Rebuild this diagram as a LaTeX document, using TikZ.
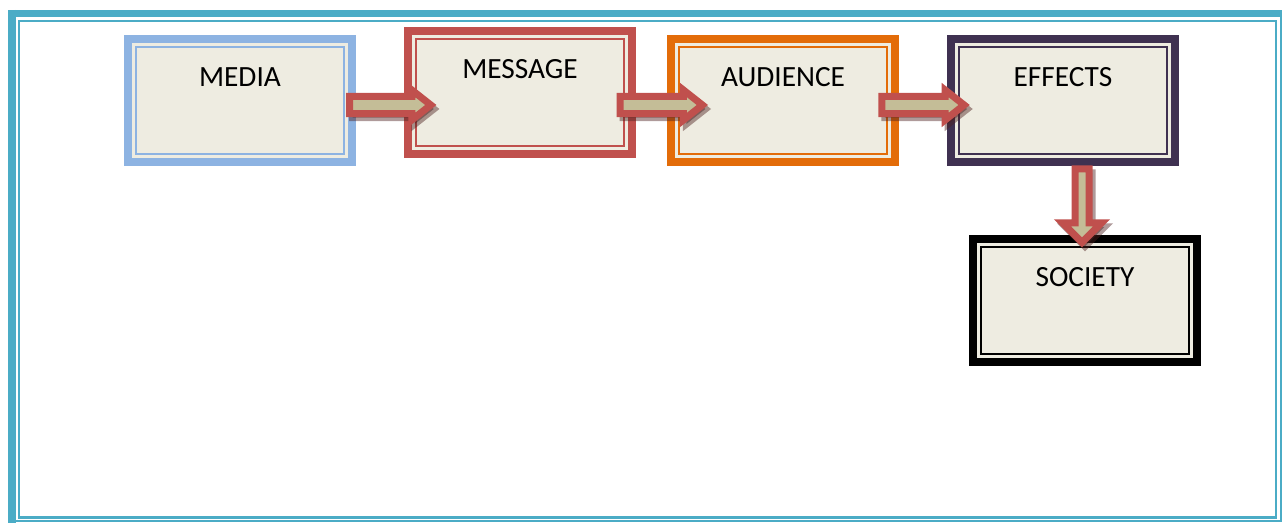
\documentclass[tikz,border=0pt]{standalone}
\usepackage{fontspec}
\setmainfont{Carlito}
\usepackage{tikz}
\usetikzlibrary{positioning}
\usetikzlibrary{calc}
\definecolor{framecol}{HTML}{4BACC6}
\definecolor{boxfill}{HTML}{EEECE1}
\definecolor{mediacol}{HTML}{8DB3E2}
\definecolor{messagecol}{HTML}{C0504D}
\definecolor{audiencecol}{HTML}{E36C09}
\definecolor{effectscol}{HTML}{3F3151}
\definecolor{arrowred}{HTML}{C0504D}
\definecolor{arrowtan}{HTML}{C4BD97}
\tikzset{stage/.style={draw=#1, fill=boxfill, line width=6pt, anchor=north,
    minimum width=168pt, inner sep=0pt, text height=36pt, text depth=56.25pt,
    font=\fontsize{22}{26}\selectfont,
    path picture={\draw[#1, line width=1.5pt]
      ([shift={(6pt,6pt)}]path picture bounding box.south west) rectangle
      ([shift={(-6pt,-6pt)}]path picture bounding box.north east);}}}

\begin{document}
\begin{tikzpicture}[x=0.75pt, y=-0.75pt]
			\tikzstyle{frame}=[draw=framecol]
			\tikzstyle{flow}=[draw=arrowred, fill=arrowtan, line width=5.25pt]
			\tikzstyle{shade}=[draw=black!60!arrowred, fill=black!60!arrowred, opacity=0.45]
			\tikzstyle{hflow}=[flow,
			  to path={([yshift=-6.45pt]\tikztostart)
			    -- ([shift={(-14.25pt,-6.45pt)}]\tikztotarget)
			    -- ([shift={(-14.25pt,-11.25pt)}]\tikztotarget)
			    -- (\tikztotarget)
			    -- ([shift={(-14.25pt,11.25pt)}]\tikztotarget)
			    -- ([shift={(-14.25pt,6.45pt)}]\tikztotarget)
			    -- ([yshift=6.45pt]\tikztostart) -- cycle}]
			\tikzstyle{vflow}=[flow,
			  to path={([xshift=-5.25pt]\tikztostart)
			    -- ([shift={(-5.25pt,14.7pt)}]\tikztotarget)
			    -- ([shift={(-14.7pt,14.7pt)}]\tikztotarget)
			    -- (\tikztotarget)
			    -- ([shift={(14.7pt,14.7pt)}]\tikztotarget)
			    -- ([shift={(5.25pt,14.7pt)}]\tikztotarget)
			    -- ([xshift=5.25pt]\tikztostart) -- cycle}]
			
			\useasboundingbox (0,0) rectangle (1282,523);
			
			% page border
			\draw [frame, line width=1.7pt] (19,21) rectangle (1276,517.5);
			\draw [frame, line width=5.25pt] (8,13.5) -- (1282,13.5);
			\draw [frame, line width=6pt] (12,10) -- (12,523);
			\draw [frame, line width=1.8pt] (15,521) -- (1280.8,521) -- (1280.8,17);
			
			\node at (240, 35) [stage=mediacol] (media) {MEDIA};
			\node at (520, 27) [stage=messagecol] (message) {MESSAGE};
			\node at (783, 35) [stage=audiencecol] (audience) {AUDIENCE};
			\node at (1063, 35) [stage=effectscol] (effects) {EFFECTS};
			\node at (1085, 235) [stage=black] (society) {SOCIETY};
			
			% shadows
			\draw [hflow, shade] ([shift={(-3.5,8.5)}]media.east) to ([shift={(29.8,16.5)}]message.west);
			\draw [hflow, shade] ([shift={(-12.8,16.5)}]message.east) to ([shift={(38.4,8.5)}]audience.west);
			\draw [hflow, shade] ([shift={(-14.2,8.5)}]audience.east) to ([shift={(20.1,8.5)}]effects.west);
			\draw [vflow, shade] ([shift={(22,6.8)}]effects.south) to ([shift={(0,11.4)}]society.north);
			
			\draw [hflow] ([shift={(-6.5,4.5)}]media.east) to ([shift={(26.8,12.5)}]message.west);
			\draw [hflow] ([shift={(-15.8,12.5)}]message.east) to ([shift={(35.4,4.5)}]audience.west);
			\draw [hflow] ([shift={(-17.2,4.5)}]audience.east) to ([shift={(17.1,4.5)}]effects.west);
			\draw [vflow] ([shift={(19,2.8)}]effects.south) to ([shift={(-3,7.4)}]society.north);
\end{tikzpicture}
\end{document}
